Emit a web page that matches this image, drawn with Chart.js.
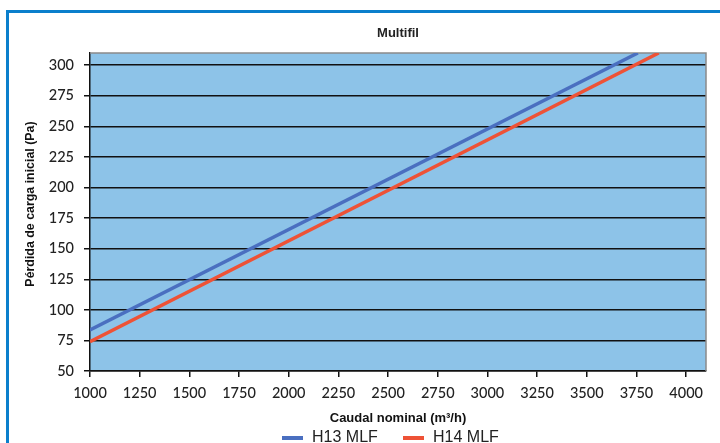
<!DOCTYPE html>
<html><head><meta charset="utf-8">
<script src="https://cdn.jsdelivr.net/npm/chart.js@4.4.0/dist/chart.umd.min.js"></script>
<style>html,body{margin:0;padding:0;background:#fff;overflow:hidden}#wrap{position:relative;width:720px;height:443px}</style>
</head><body><div id="wrap"><canvas id="c" width="720" height="443"></canvas></div>
<script>
const chartTitle = 'Multifil';
const xTitle = 'Caudal nominal (m³/h)';
const yTitle = 'Pérdida de carga inicial (Pa)';
const seriesNames = ['H13 MLF', 'H14 MLF'];
const seriesColors = ['#4a6fc0', '#ee5236'];
const h13X = [1000, 3757];
const h13Y = [83.5, 310];
const h14X = [1000, 3862];
const h14Y = [74, 310];
const xTicks = [1000, 1250, 1500, 1750, 2000, 2250, 2500, 2750, 3000, 3250, 3500, 3750, 4000];
const yTicks = [50, 75, 100, 125, 150, 175, 200, 225, 250, 275, 300];

const toPts = (xs, ys) => xs.map((x, i) => ({x: x, y: ys[i]}));

const decor = {
  id: 'decor',
  beforeDraw(chart) {
    const ctx = chart.ctx;
    ctx.save();
    ctx.fillStyle = '#fff';
    ctx.fillRect(0, 0, chart.width, chart.height);
    ctx.fillStyle = '#0b7fcc';
    ctx.fillRect(6, 10, 3, chart.height - 10);
    ctx.fillRect(6, 10, chart.width - 6, 3);
    const a = chart.chartArea;
    ctx.fillStyle = '#8dc3e8';
    ctx.fillRect(a.left, a.top, a.right - a.left, a.bottom - a.top);
    ctx.restore();
  },
  beforeDatasetsDraw(chart) {
    const ctx = chart.ctx, a = chart.chartArea;
    ctx.save();
    ctx.strokeStyle = '#8a8a8a';
    ctx.lineWidth = 1.5;
    ctx.beginPath();
    ctx.moveTo(a.left, a.top);
    ctx.lineTo(a.right, a.top);
    ctx.lineTo(a.right, a.bottom);
    ctx.stroke();
    ctx.restore();
  },
  afterDraw(chart) {
    const ctx = chart.ctx, a = chart.chartArea;
    // chart title
    ctx.save();
    ctx.font = 'bold 13px "Liberation Sans Narrow", "Liberation Sans", Arial, sans-serif';
    ctx.fillStyle = '#222';
    ctx.textAlign = 'center';
    ctx.textBaseline = 'middle';
    ctx.fillText(chartTitle, (a.left + a.right) / 2, 33);
    ctx.restore();
    // y title
    ctx.save();
    ctx.translate(31, 204);
    ctx.rotate(-Math.PI / 2);
    ctx.font = 'bold 12.4px "Liberation Sans", Arial, sans-serif';
    ctx.fillStyle = '#111';
    ctx.textAlign = 'center';
    ctx.textBaseline = 'middle';
    ctx.fillText(yTitle, 0, 0);
    ctx.restore();
    // legend
    ctx.save();
    ctx.font = '16px "Liberation Sans", Arial, sans-serif';
    ctx.textBaseline = 'alphabetic';
    ctx.textAlign = 'left';
    const lx = [282, 403];
    chart.data.datasets.forEach((ds, i) => {
      ctx.strokeStyle = ds.borderColor;
      ctx.lineWidth = 4;
      ctx.beginPath();
      ctx.moveTo(lx[i], 438);
      ctx.lineTo(lx[i] + 21, 438);
      ctx.stroke();
      ctx.fillStyle = '#222';
      ctx.fillText(ds.label, lx[i] + 30, 441.5);
    });
    ctx.restore();
  }
};

const tickFont = {family: 'Lato, "Open Sans", sans-serif', size: 14.5, weight: '500'};

new Chart(document.getElementById('c'), {
  type: 'line',
  data: {
    datasets: [
      {label: seriesNames[0], data: toPts(h13X, h13Y), borderColor: seriesColors[0], borderWidth: 3.5, pointRadius: 0, tension: 0},
      {label: seriesNames[1], data: toPts(h14X, h14Y), borderColor: seriesColors[1], borderWidth: 3.5, pointRadius: 0, tension: 0}
    ]
  },
  options: {
    responsive: false,
    animation: false,
    devicePixelRatio: 1,
    layout: {padding: {left: 14, right: 14, top: 53, bottom: 12}},
    plugins: {
      legend: {display: false},
      tooltip: {enabled: false},
      title: {display: false}
    },
    scales: {
      x: {
        type: 'linear', min: 1000, max: 4100,
        afterFit(s) { s.height = 60; },
        afterBuildTicks(s) { s.ticks = xTicks.map(v => ({value: v})); },
        ticks: {color: '#222', font: tickFont, padding: 8, maxRotation: 0, autoSkip: false, callback: v => String(v)},
        grid: {drawOnChartArea: false, drawTicks: true, tickLength: 6, color: '#111', lineWidth: 1.5},
        border: {display: true, color: '#111', width: 1.5},
        title: {display: true, text: xTitle, color: '#111',
          font: {family: '"Liberation Sans", Arial, sans-serif', size: 13, weight: 'bold'},
          padding: {top: 0, bottom: 5}}
      },
      y: {
        type: 'linear', min: 50, max: 310,
        afterFit(s) { s.width = 76; },
        afterBuildTicks(s) { s.ticks = yTicks.map(v => ({value: v})); },
        ticks: {color: '#222', font: tickFont, padding: 10, autoSkip: false, callback: v => String(v)},
        grid: {color: '#111', lineWidth: 1.5, tickLength: 6, drawTicks: true},
        border: {display: true, color: '#111', width: 1.5},
        title: {display: false}
      }
    }
  },
  plugins: [decor]
});
</script></body></html>
